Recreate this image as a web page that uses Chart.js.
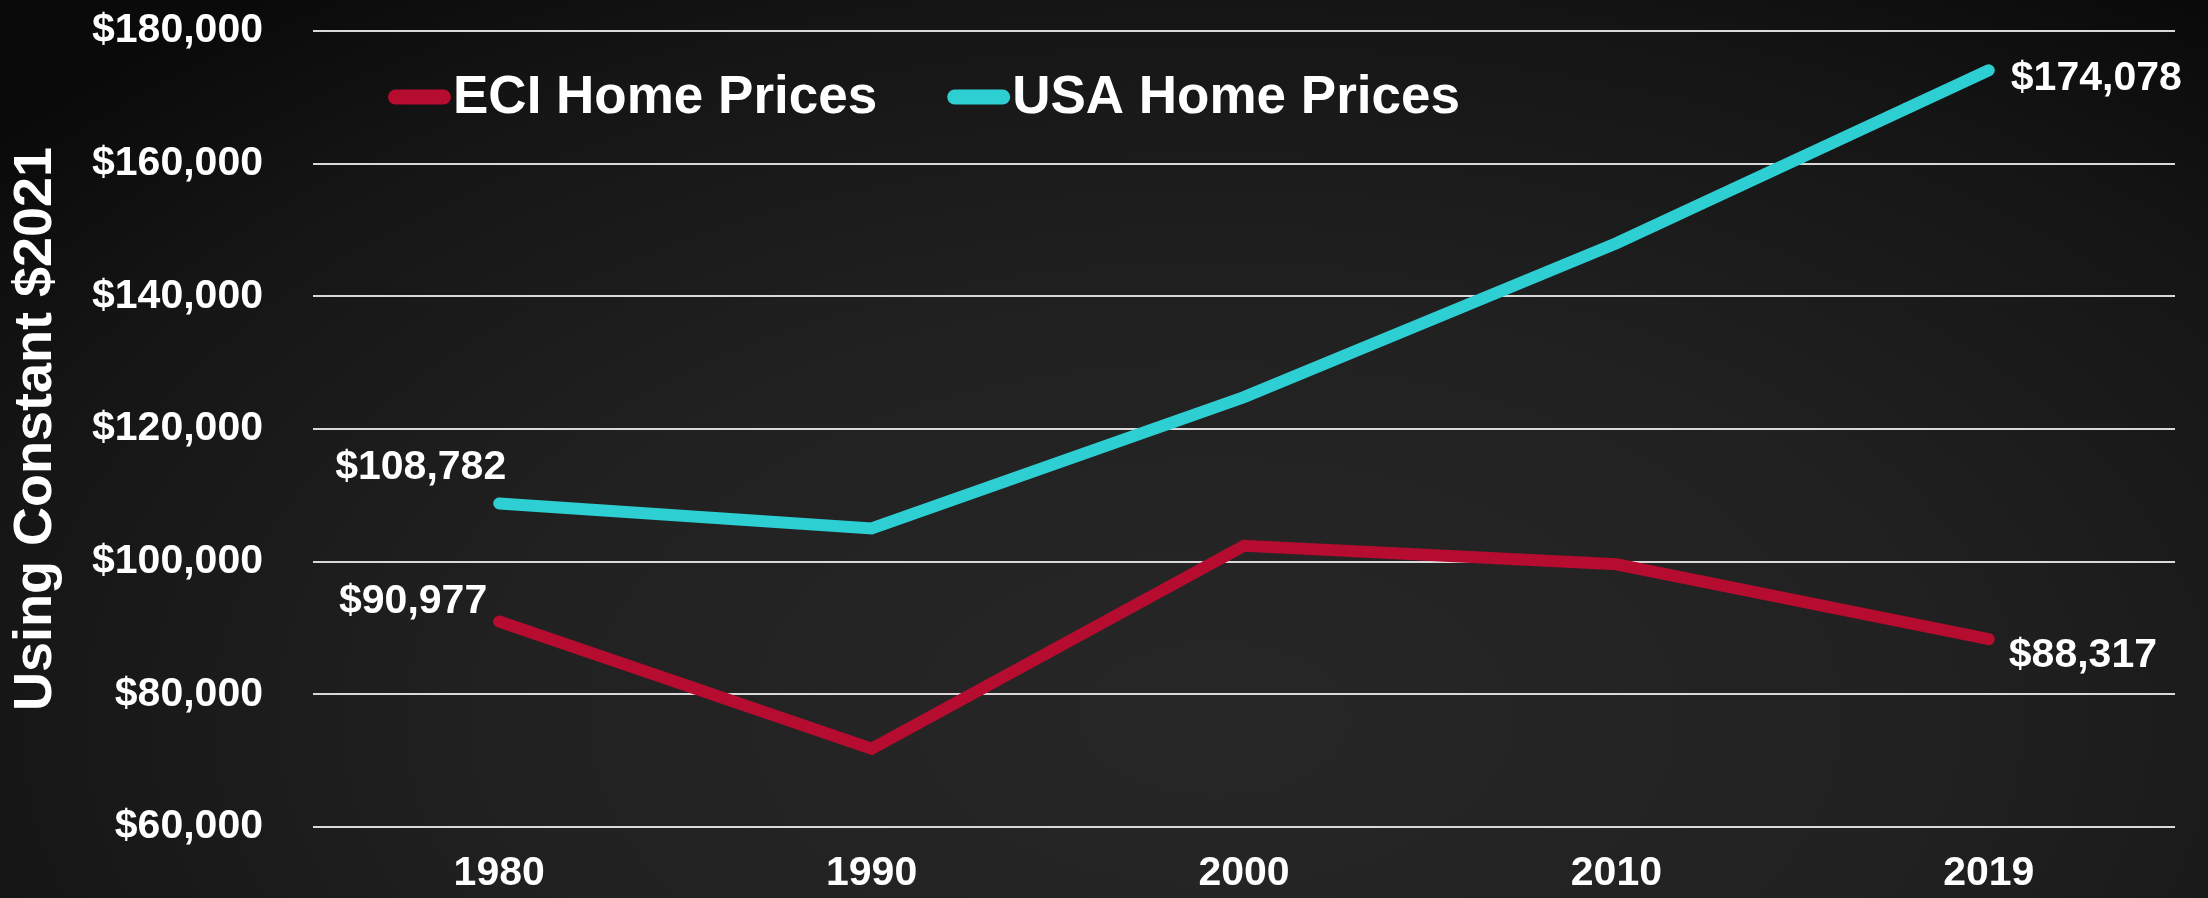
<!DOCTYPE html>
<html>
<head>
<meta charset="utf-8">
<script src="https://cdn.jsdelivr.net/npm/chart.js@4.4.0/dist/chart.umd.min.js"></script>
<style>
	html, body { margin: 0; padding: 0; }
	body {
		width: 2208px;
		height: 898px;
		overflow: hidden;
		background: radial-gradient(ellipse 72% 100% at 55% 80%, #272727 0%, #212121 45%, #151515 80%, #0a0a0a 100%);
	}
	#grafica { display: block; }
</style>
</head>
<body>
<canvas id="grafica" width="2208" height="898"></canvas>
<script>
const anios = ['1980', '1990', '2000', '2010', '2019'];
const preciosECI = [90977, 71800, 102400, 99600, 88317];
const preciosUSA = [108782, 105000, 124800, 148000, 174078];
const ticksY = [60000, 80000, 100000, 120000, 140000, 160000, 180000];

const fuente = '"Liberation Sans", Arial, sans-serif';

function dinero(valor) {
	return '$' + valor.toLocaleString('en-US');
}

// etiquetas de valor en el primer y ultimo punto
const etiquetas = {
	id: 'etiquetas',
	afterDatasetsDraw(chart) {
		const ctx = chart.ctx;
		ctx.save();
		ctx.font = 'bold 41px ' + fuente;
		ctx.fillStyle = '#ffffff';
		ctx.textBaseline = 'alphabetic';
		chart.data.datasets.forEach((ds, i) => {
			const puntos = chart.getDatasetMeta(i).data;
			ds.etiquetas.forEach(e => {
				const p = puntos[e.indice];
				ctx.textAlign = e.align;
				ctx.fillText(dinero(ds.data[e.indice]), p.x + e.dx, p.y + e.dy);
			});
		});
		ctx.restore();
	}
};

// leyenda dibujada a mano (linea pegada al texto)
const leyenda = {
	id: 'leyenda',
	afterDraw(chart) {
		const ctx = chart.ctx;
		let x = 388;
		const y = 97;
		ctx.save();
		ctx.font = 'bold 53px ' + fuente;
		ctx.textAlign = 'left';
		ctx.textBaseline = 'alphabetic';
		chart.data.datasets.forEach(ds => {
			ctx.strokeStyle = ds.borderColor;
			ctx.lineWidth = 15;
			ctx.lineCap = 'round';
			ctx.beginPath();
			ctx.moveTo(x + 7.5, y);
			ctx.lineTo(x + 55.5, y);
			ctx.stroke();
			ctx.fillStyle = '#ffffff';
			ctx.fillText(ds.label, x + 65, 113);
			x += 65 + ctx.measureText(ds.label).width + 70;
		});
		ctx.restore();
	}
};

new Chart(document.getElementById('grafica'), {
	type: 'line',
	data: {
		labels: anios,
		datasets: [{
			label: 'ECI Home Prices',
			data: preciosECI,
			borderColor: '#b50c30',
			borderWidth: 12,
			borderCapStyle: 'round',
			borderJoinStyle: 'miter',
			pointRadius: 0,
			tension: 0,
			etiquetas: [
				{ indice: 0, align: 'right', dx: -12, dy: -9 },
				{ indice: 4, align: 'left', dx: 20, dy: 28 }
			]
		}, {
			label: 'USA Home Prices',
			data: preciosUSA,
			borderColor: '#2ecfd3',
			borderWidth: 12,
			borderCapStyle: 'round',
			borderJoinStyle: 'miter',
			pointRadius: 0,
			tension: 0,
			etiquetas: [
				{ indice: 0, align: 'right', dx: 7, dy: -24 },
				{ indice: 4, align: 'left', dx: 22, dy: 20 }
			]
		}]
	},
	options: {
		responsive: false,
		animation: false,
		layout: { padding: { left: 0, right: 33, top: 31, bottom: 0 } },
		plugins: {
			legend: { display: false },
			tooltip: { enabled: false }
		},
		scales: {
			x: {
				offset: true,
				grid: { display: false, drawTicks: false },
				border: { display: false },
				ticks: {
					color: '#ffffff',
					padding: 22,
					font: { family: fuente, size: 41, weight: 'bold' }
				},
				afterFit: function (scale) {
					scale.height = 71;
					scale.paddingLeft = 0;
					scale.paddingRight = 0;
				}
			},
			y: {
				min: ticksY[0],
				max: ticksY[ticksY.length - 1],
				grid: { color: '#d9d9d9', lineWidth: 2, drawTicks: false },
				border: { display: false },
				ticks: {
					stepSize: ticksY[1] - ticksY[0],
					color: '#ffffff',
					padding: 50,
					font: { family: fuente, size: 41, weight: 'bold' },
					callback: function (v) { return dinero(v); }
				},
				title: {
					display: true,
					text: 'Using Constant $2021',
					color: '#ffffff',
					padding: { top: 4, bottom: 0 },
					font: { family: fuente, size: 54, weight: 'bold' }
				},
				afterFit: function (scale) {
					scale.width = 313;
					scale.paddingTop = 0;
					scale.paddingBottom = 0;
				}
			}
		}
	},
	plugins: [etiquetas, leyenda]
});
</script>
</body>
</html>
